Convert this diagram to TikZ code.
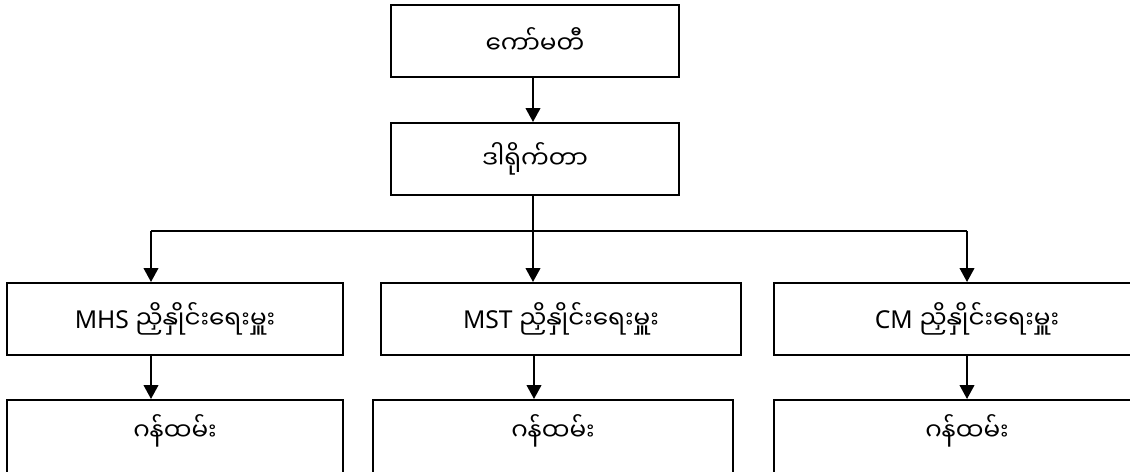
\documentclass[tikz,border=0pt]{standalone}
\usepackage{fontspec}
\setmainfont{Noto Sans}
\newfontfamily\mmfont[Script=Myanmar]{Noto Sans Myanmar UI}
\usetikzlibrary{arrows.meta}
\begin{document}
\begin{tikzpicture}[x=0.75pt,y=-0.75pt,
  box/.style={draw,line width=1.5pt,rectangle,inner sep=0pt,font=\fontsize{18.5}{22}\selectfont},
  staff/.style={box,anchor=north,minimum height=80*0.75pt,text height=40*0.75pt,text depth=40*0.75pt},
  line/.style={line width=1.5pt},
  arr/.style={line width=1.5pt,-{Triangle[length=10.5pt,width=11pt]}}]
\useasboundingbox (0,0) rectangle (1130,471);
\clip (0,0) rectangle (1130,471);
\node[box,minimum width=288*0.75pt,minimum height=72*0.75pt] (com) at (535,41) {\mmfont ကော်မတီ};
\node[box,minimum width=288*0.75pt,minimum height=72*0.75pt] (dir) at (535,159) {\mmfont ဒါရိုက်တာ};
\node[box,minimum width=336*0.75pt,minimum height=72*0.75pt] (mhs) at (175,319) {MHS {\mmfont ညှိနှိုင်းရေးမှူး}};
\node[box,minimum width=360*0.75pt,minimum height=72*0.75pt] (mst) at (561,319) {MST {\mmfont ညှိနှိုင်းရေးမှူး}};
\node[box,minimum width=386*0.75pt,minimum height=72*0.75pt] (cm) at (967,319) {CM {\mmfont ညှိနှိုင်းရေးမှူး}};
\node[staff,minimum width=336*0.75pt] (s1) at (175,399) {\mmfont ဂန်ထမ်း};
\node[staff,minimum width=360*0.75pt] (s2) at (553,399) {\mmfont ဂန်ထမ်း};
\node[staff,minimum width=386*0.75pt] (s3) at (967,399) {\mmfont ဂန်ထမ်း};
\coordinate (bl) at (151,231);
\coordinate (br) at (967,231);
\coordinate (bm) at (533,231);
\draw[arr] (com.south -| bm) -- (bm |- dir.north);
\draw[arr] (dir.south -| bm) -- (bm |- mst.north);
\draw[line] (bl) -- (br);
\draw[arr] (bl) -- (bl |- mhs.north);
\draw[arr] (br) -- (br |- cm.north);
\draw[arr] (bl |- mhs.south) -- (bl |- s1.north);
\draw[arr] (mst.south -| 534,0) -- (534,399);
\draw[arr] (br |- cm.south) -- (br |- s3.north);
\end{tikzpicture}
\end{document}
